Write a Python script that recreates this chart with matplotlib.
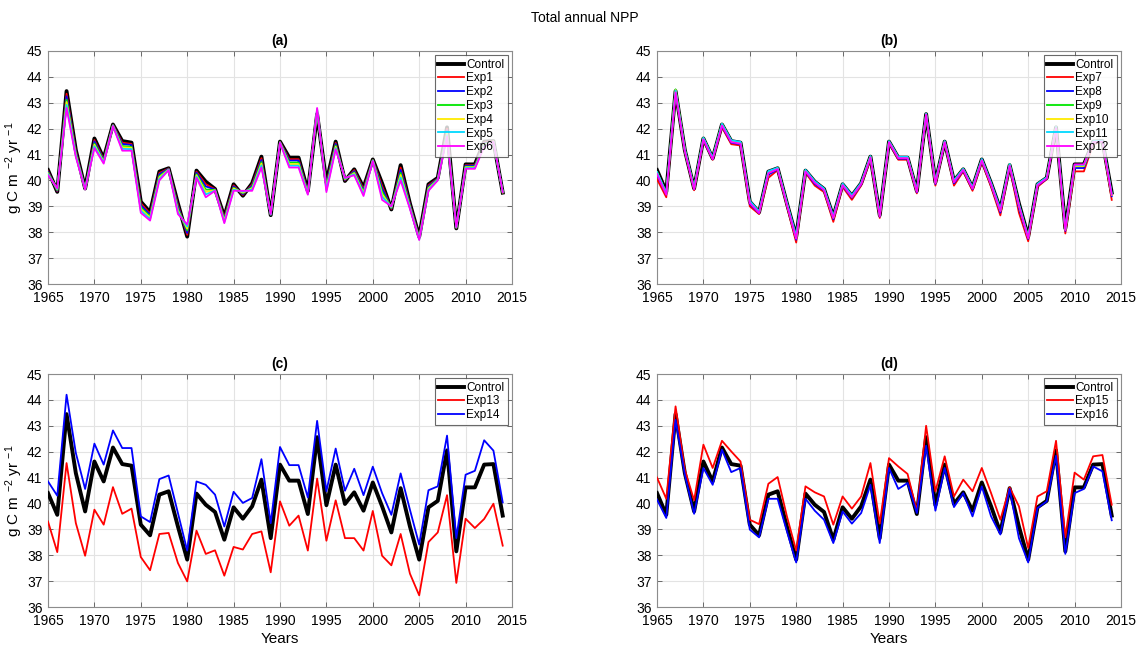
import matplotlib
matplotlib.use("Agg")
import matplotlib.pyplot as plt
from matplotlib.ticker import MultipleLocator

plt.rcParams["font.family"] = ["Liberation Sans Narrow", "Liberation Sans", "DejaVu Sans"]
plt.rcParams["mathtext.default"] = "regular"

years = list(range(1965, 2015))

control = [40.40, 39.56, 43.45, 41.17, 39.69, 41.62, 40.85, 42.16, 41.52, 41.46,
           39.18, 38.77, 40.34, 40.47, 39.11, 37.83, 40.38, 39.95, 39.67, 38.60,
           39.85, 39.41, 39.89, 40.92, 38.66, 41.50, 40.88, 40.88, 39.59, 42.56,
           39.93, 41.50, 39.98, 40.43, 39.72, 40.81, 39.89, 38.88, 40.59, 39.11,
           37.83, 39.85, 40.10, 42.05, 38.15, 40.62, 40.62, 41.50, 41.52, 39.53]

# panel (a)
exp1 = [40.37, 39.58, 43.35, 41.13, 39.68, 41.56, 40.82, 42.15, 41.46, 41.41,
        39.12, 38.72, 40.29, 40.46, 39.05, 37.90, 40.34, 39.86, 39.66, 38.56,
        39.81, 39.44, 39.85, 40.86, 38.67, 41.49, 40.82, 40.82, 39.57, 42.60,
        39.87, 41.45, 40.00, 40.40, 39.67, 40.80, 39.79, 38.90, 40.50, 39.08,
        37.81, 39.81, 40.08, 42.00, 38.16, 40.59, 40.59, 41.47, 41.52, 39.53]
exp2 = [40.34, 39.60, 43.25, 41.09, 39.68, 41.51, 40.79, 42.14, 41.41, 41.37,
        39.05, 38.67, 40.24, 40.45, 38.99, 37.97, 40.30, 39.77, 39.65, 38.52,
        39.77, 39.47, 39.80, 40.79, 38.67, 41.48, 40.77, 40.77, 39.55, 42.63,
        39.82, 41.41, 40.02, 40.36, 39.62, 40.79, 39.70, 38.92, 40.41, 39.05,
        37.79, 39.77, 40.07, 41.94, 38.17, 40.57, 40.57, 41.44, 41.51, 39.54]
exp3 = [40.30, 39.63, 43.12, 41.03, 39.67, 41.43, 40.75, 42.13, 41.33, 41.30,
        38.96, 38.61, 40.17, 40.43, 38.90, 38.07, 40.24, 39.65, 39.63, 38.47,
        39.72, 39.51, 39.74, 40.71, 38.68, 41.47, 40.69, 40.69, 39.52, 42.68,
        39.74, 41.35, 40.04, 40.31, 39.56, 40.78, 39.57, 38.94, 40.29, 39.00,
        37.76, 39.72, 40.05, 41.87, 38.18, 40.53, 40.53, 41.40, 41.51, 39.54]
exp4 = [40.27, 39.65, 43.03, 40.99, 39.66, 41.38, 40.72, 42.12, 41.28, 41.26,
        38.90, 38.56, 40.12, 40.42, 38.84, 38.14, 40.20, 39.56, 39.62, 38.44,
        39.69, 39.53, 39.70, 40.65, 38.69, 41.47, 40.63, 40.63, 39.50, 42.72,
        39.68, 41.30, 40.06, 40.28, 39.51, 40.77, 39.47, 38.96, 40.21, 38.97,
        37.75, 39.69, 40.03, 41.82, 38.18, 40.51, 40.51, 41.37, 41.51, 39.54]
exp5 = [40.24, 39.67, 42.92, 40.95, 39.66, 41.32, 40.69, 42.11, 41.22, 41.21,
        38.83, 38.51, 40.06, 40.41, 38.77, 38.22, 40.15, 39.46, 39.61, 38.39,
        39.64, 39.57, 39.65, 40.58, 38.69, 41.46, 40.57, 40.57, 39.48, 42.76,
        39.62, 41.25, 40.08, 40.24, 39.46, 40.76, 39.37, 38.98, 40.11, 38.94,
        37.72, 39.64, 40.02, 41.76, 38.19, 40.48, 40.48, 41.34, 41.50, 39.55]
exp6 = [40.20, 39.70, 42.80, 40.90, 39.65, 41.25, 40.65, 42.10, 41.15, 41.15,
        38.75, 38.45, 40.00, 40.40, 38.70, 38.30, 40.10, 39.35, 39.60, 38.35,
        39.60, 39.60, 39.60, 40.50, 38.70, 41.45, 40.50, 40.50, 39.45, 42.80,
        39.55, 41.20, 40.10, 40.20, 39.40, 40.75, 39.25, 39.00, 40.00, 38.90,
        37.70, 39.60, 40.00, 41.70, 38.20, 40.45, 40.45, 41.30, 41.50, 39.55]

# panel (b)
exp7 = [40.05, 39.35, 43.35, 41.10, 39.62, 41.55, 40.80, 42.05, 41.40, 41.35,
        39.00, 38.70, 40.10, 40.40, 39.00, 37.60, 40.30, 39.80, 39.55, 38.40,
        39.75, 39.25, 39.80, 40.80, 38.55, 41.45, 40.80, 40.80, 39.50, 42.50,
        39.80, 41.45, 39.80, 40.35, 39.60, 40.70, 39.75, 38.65, 40.50, 38.75,
        37.65, 39.75, 40.05, 41.95, 37.95, 40.35, 40.35, 41.40, 41.50, 39.25]
exp8 = [40.22, 39.46, 43.40, 41.13, 39.66, 41.58, 40.82, 42.10, 41.46, 41.40,
        39.09, 38.73, 40.22, 40.43, 39.05, 37.71, 40.34, 39.87, 39.61, 38.50,
        39.80, 39.33, 39.84, 40.86, 38.60, 41.47, 40.84, 40.84, 39.54, 42.53,
        39.86, 41.47, 39.89, 40.39, 39.66, 40.75, 39.82, 38.76, 40.54, 38.93,
        37.74, 39.80, 40.07, 42.00, 38.05, 40.48, 40.48, 41.45, 41.51, 39.39]
exp9 = [40.32, 39.50, 43.52, 41.19, 39.70, 41.64, 40.86, 42.18, 41.53, 41.47,
        39.16, 38.78, 40.30, 40.48, 39.11, 37.78, 40.39, 39.95, 39.66, 38.57,
        39.86, 39.38, 39.89, 40.93, 38.65, 41.51, 40.89, 40.89, 39.59, 42.57,
        39.92, 41.51, 39.96, 40.44, 39.71, 40.81, 39.87, 38.84, 40.62, 39.05,
        37.80, 39.85, 40.11, 42.06, 38.10, 40.55, 40.55, 41.50, 41.53, 39.45]
exp10 = [40.31, 39.49, 43.50, 41.18, 39.69, 41.63, 40.85, 42.17, 41.52, 41.46,
         39.15, 38.77, 40.29, 40.47, 39.10, 37.77, 40.38, 39.94, 39.65, 38.56,
         39.85, 39.37, 39.88, 40.92, 38.64, 41.50, 40.88, 40.88, 39.58, 42.56,
         39.91, 41.50, 39.95, 40.43, 39.70, 40.80, 39.86, 38.83, 40.61, 39.04,
         37.79, 39.84, 40.10, 42.05, 38.09, 40.56, 40.56, 41.49, 41.52, 39.44]
exp11 = [40.33, 39.52, 43.48, 41.20, 39.71, 41.65, 40.88, 42.19, 41.55, 41.49,
         39.21, 38.80, 40.36, 40.49, 39.14, 37.86, 40.41, 39.97, 39.69, 38.62,
         39.88, 39.43, 39.91, 40.94, 38.68, 41.52, 40.91, 40.91, 39.61, 42.58,
         39.95, 41.52, 40.00, 40.45, 39.74, 40.83, 39.91, 38.90, 40.63, 39.09,
         37.82, 39.87, 40.12, 42.07, 38.13, 40.60, 40.60, 41.52, 41.54, 39.50]
exp12 = [40.25, 39.45, 43.40, 41.14, 39.66, 41.59, 40.82, 42.12, 41.48, 41.42,
         39.13, 38.74, 40.28, 40.44, 39.07, 37.75, 40.35, 39.91, 39.63, 38.55,
         39.82, 39.36, 39.86, 40.89, 38.62, 41.48, 40.86, 40.86, 39.56, 42.55,
         39.89, 41.48, 39.93, 40.41, 39.68, 40.78, 39.85, 38.82, 40.57, 39.03,
         37.77, 39.82, 40.08, 42.02, 38.08, 40.62, 40.62, 41.48, 41.50, 39.45]

# panel (c)
exp13 = [39.30, 38.12, 41.56, 39.24, 37.98, 39.76, 39.18, 40.63, 39.60, 39.80,
         37.93, 37.42, 38.82, 38.86, 37.70, 36.99, 38.95, 38.05, 38.19, 37.21,
         38.32, 38.22, 38.82, 38.92, 37.34, 40.08, 39.14, 39.53, 38.18, 40.96,
         38.56, 40.12, 38.66, 38.66, 38.18, 39.71, 37.98, 37.61, 38.82, 37.29,
         36.45, 38.51, 38.88, 40.32, 36.93, 39.41, 39.05, 39.40, 39.99, 38.37]
exp14 = [40.85, 40.30, 44.20, 41.95, 40.56, 42.31, 41.50, 42.82, 42.14, 42.14,
         39.50, 39.28, 40.94, 41.08, 39.63, 38.18, 40.85, 40.72, 40.34, 39.11,
         40.45, 40.02, 40.21, 41.71, 39.24, 42.18, 41.48, 41.48, 40.23, 43.19,
         40.47, 42.12, 40.49, 41.34, 40.32, 41.42, 40.40, 39.56, 41.16, 39.76,
         38.41, 40.51, 40.66, 42.62, 38.66, 41.11, 41.26, 42.44, 42.04, 40.04]

# panel (d)
exp15 = [41.00, 40.18, 43.75, 41.30, 40.12, 42.27, 41.37, 42.42, 42.01, 41.62,
         39.37, 39.20, 40.76, 41.02, 39.50, 38.18, 40.66, 40.43, 40.27, 39.18,
         40.27, 39.80, 40.27, 41.56, 39.22, 41.75, 41.43, 41.14, 39.70, 43.00,
         40.47, 41.82, 40.27, 40.92, 40.47, 41.37, 40.40, 39.37, 40.62, 39.89,
         38.28, 40.27, 40.47, 42.42, 38.69, 41.19, 40.92, 41.82, 41.87, 39.95]
exp16 = [40.15, 39.44, 43.23, 41.11, 39.60, 41.37, 40.72, 42.08, 41.21, 41.37,
         38.99, 38.69, 40.18, 40.18, 38.92, 37.72, 40.18, 39.72, 39.37, 38.47,
         39.69, 39.22, 39.63, 40.72, 38.47, 41.37, 40.56, 40.79, 39.63, 42.23,
         39.72, 41.37, 39.86, 40.40, 39.50, 40.66, 39.50, 38.80, 40.56, 38.66,
         37.72, 39.82, 40.08, 41.84, 38.05, 40.40, 40.56, 41.43, 41.24, 39.35]

RED, BLUE, GREEN = (1, 0, 0), (0, 0, 1), (0, 0.9, 0)
YELLOW, CYAN, MAGENTA = (1, 0.92, 0), (0, 0.85, 1), (1, 0, 1)

panels = [
    ("(a)", [("Exp1", exp1, RED), ("Exp2", exp2, BLUE), ("Exp3", exp3, GREEN),
             ("Exp4", exp4, YELLOW), ("Exp5", exp5, CYAN), ("Exp6", exp6, MAGENTA)]),
    ("(b)", [("Exp7", exp7, RED), ("Exp8", exp8, BLUE), ("Exp9", exp9, GREEN),
             ("Exp10", exp10, YELLOW), ("Exp11", exp11, CYAN), ("Exp12", exp12, MAGENTA)]),
    ("(c)", [("Exp13", exp13, RED), ("Exp14", exp14, BLUE)]),
    ("(d)", [("Exp15", exp15, RED), ("Exp16", exp16, BLUE)]),
]

fig = plt.figure(figsize=(11.38, 6.45), dpi=100)
W, H = 1138, 645
rects = [(48, 51, 512, 284), (657, 51, 1121, 284),
         (48, 374, 512, 607), (657, 374, 1121, 607)]

for i, ((label, series), (x0, y0, x1, y1)) in enumerate(zip(panels, rects)):
    ax = fig.add_axes([x0 / W, 1 - y1 / H, (x1 - x0) / W, (y1 - y0) / H])
    ax.plot(years, control, color="black", lw=2.8, label="Control", zorder=3)
    for j, (name, vals, col) in enumerate(series):
        ax.plot(years, vals, color=col, lw=1.3, label=name, zorder=4 + j)
    ax.set_xlim(1965, 2015)
    ax.set_ylim(36, 45)
    ax.xaxis.set_major_locator(MultipleLocator(5))
    ax.yaxis.set_major_locator(MultipleLocator(1))
    ax.grid(True, color="#e3e3e3", lw=0.8)
    ax.set_axisbelow(True)
    for sp in ax.spines.values():
        sp.set_color("#8c8c8c")
        sp.set_linewidth(0.8)
    ax.tick_params(direction="in", length=3.5, width=0.6, color="#555555",
                   labelsize=10, top=True, right=True)
    ax.tick_params(axis="x", pad=5)
    ax.tick_params(axis="y", pad=4)
    ax.set_title(label, fontsize=10, fontweight="bold", pad=4)
    if i in (0, 2):
        ax.set_ylabel(r"g C m $^{-2}$ yr $^{-1}$", fontsize=11, labelpad=1)
    if i in (2, 3):
        ax.set_xlabel("Years", fontsize=11, labelpad=3)
    leg = ax.legend(loc="upper right", fontsize=8.5, frameon=True, fancybox=False,
                    borderpad=0.3, labelspacing=0.15, handlelength=2.2,
                    handletextpad=0.15, borderaxespad=0.35)
    leg.get_frame().set_edgecolor("#444444")
    leg.get_frame().set_linewidth(0.8)
    leg.set_zorder(20)

fig.text(0.514, 0.972, "Total annual NPP", ha="center", va="center", fontsize=10)

fig.savefig("out.png", dpi=100)
